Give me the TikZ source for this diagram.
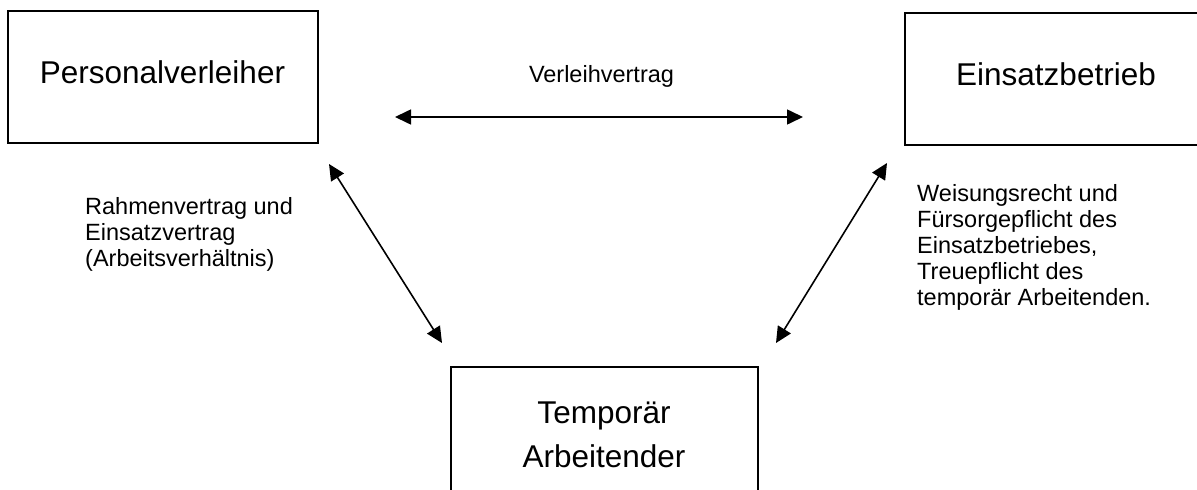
\documentclass[tikz,border=0pt]{standalone}
\usepackage{fontspec}
\setmainfont{Liberation Sans}
\usetikzlibrary{arrows.meta}
\begin{document}
\begin{tikzpicture}[x=1pt,y=-1pt,
  box/.style={draw, line width=1.5pt, inner sep=0pt, anchor=north west},
  big/.style={font=\fontsize{31.5}{44}\selectfont, inner sep=0pt, anchor=base, align=center},
  small/.style={font=\fontsize{23.5}{26}\selectfont, inner sep=0pt, anchor=base west, align=left},
  arr/.style={line width=1.6pt, {Triangle[length=16pt,width=15pt]}-{Triangle[length=16pt,width=15pt]}}]
\useasboundingbox (0,0) rectangle (1197,490);
\fill[white] (0,0) rectangle (1197,490);
% boxes
\node[box, minimum width=310pt, minimum height=132pt] (pv) at (7,10) {};
\node[box, minimum width=310pt, minimum height=132pt] (eb) at (904,12) {};
\node[box, minimum width=307pt, minimum height=150pt] (ta) at (450,366) {};
% box texts (base anchor = baseline of the last line)
\node[big] (pvt) at (162.5,83) {Personalverleiher};
\node[big] (ebt) at (1056,85) {Einsatzbetrieb};
\node[big] (tat) at (604,467) {Temporär\\Arbeitender};
% labels
\node[small, anchor=base] (vv) at (601.5,82) {Verleihvertrag};
\node[small] (rv) at (85,266) {Rahmenvertrag und\\Einsatzvertrag\\(Arbeitsverhältnis)};
\node[small] (wr) at (917,305) {Weisungsrecht und\\Fürsorgepflicht des\\Einsatzbetriebes,\\Treuepflicht des\\temporär Arbeitenden.};
% arrow ends
\coordinate (a1) at (395,117);
\coordinate (a2) at (803,117);
\coordinate (b1) at (329,164);
\coordinate (b2) at (442,343);
\coordinate (c1) at (887,163);
\coordinate (c2) at (776,343);
\draw[arr] (a1) -- (a2);
\draw[arr] (b1) -- (b2);
\draw[arr] (c1) -- (c2);
\end{tikzpicture}
\end{document}
